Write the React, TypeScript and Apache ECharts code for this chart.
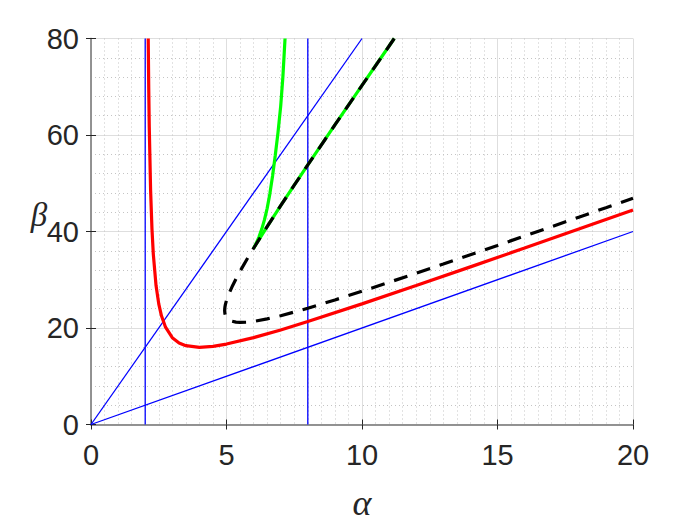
import React, { useEffect, useRef } from "react";
import * as echarts from "echarts";

// Axis ticks
const xTickValues = [0, 5, 10, 15, 20];
const yTickValues = [0, 20, 40, 60, 80];

// Blue reference lines
const blueSteepLine = [[0, 0], [10, 80]];
const blueShallowLine = [[0, 0], [20, 40]];
const blueVerticalA = [[2, 0], [2, 80]];
const blueVerticalB = [[8, 0], [8, 80]];

// Red curve (alpha, beta)
const redCurve = [
  [2.1115, 80], [2.13, 69.8], [2.15, 61.63], [2.2, 48.4], [2.25, 40.5], [2.3, 35.27],
  [2.4, 28.8], [2.5, 25], [2.6, 22.53], [2.75, 20.17], [3, 18], [3.25, 16.9],
  [3.5, 16.33], [4, 16], [4.5, 16.2], [5, 16.67], [6, 18], [7, 19.6], [8, 21.33],
  [10, 25], [12, 28.8], [14, 32.67], [16, 36.57], [18, 40.5], [20, 44.44],
];

// Green steep branch
const greenSteep = [
  [6.0, 36.5], [6.1, 37.6], [6.2, 38.9], [6.3, 40.5], [6.4, 42.4], [6.5, 44.8],
  [6.6, 47.8], [6.7, 51.5], [6.8, 55.8], [6.9, 60.5], [7.0, 66], [7.08, 72], [7.16, 80],
];

// Black dashed curve: upper part (top -> nose), then lower part (nose -> right edge)
const dashedUpper = [
  [11.19, 80], [11, 78.44], [10, 70.28], [9, 62.08], [8, 53.79], [7.5, 49.6],
  [7, 45.35], [6.5, 41.01], [6, 36.53], [5.75, 34.2], [5.5, 31.75], [5.35, 30.18],
  [5.2, 28.49], [5.1, 27.23], [5.05, 26.52], [5, 25.71], [4.96, 24.89], [4.94, 24.29],
  [4.9307, 23.6],
];
const dashedLower = [
  [4.94, 23.01], [4.96, 22.61], [5, 22.19], [5.05, 21.88], [5.1, 21.67], [5.2, 21.41],
  [5.35, 21.22], [5.5, 21.15], [5.75, 21.2], [6, 21.37], [6.5, 21.89], [7, 22.55],
  [7.5, 23.3], [8, 24.11], [9, 25.82], [10, 27.62], [11, 29.47], [12, 31.35],
  [13, 33.25], [14, 35.18], [15, 37.11], [16, 39.06], [17, 41.01], [18, 42.97],
  [19, 44.93], [20, 46.9],
];
const greenAlongStartAlpha = 6;

const FONT = '"Liberation Sans", Arial, Helvetica, sans-serif';
const SERIF = '"Liberation Serif", "Times New Roman", serif';

export default function App() {
  const ref = useRef<HTMLDivElement>(null);

  useEffect(() => {
    if (!ref.current) return;
    const chart = echarts.init(ref.current, undefined, { renderer: "svg" });

    const xMin = xTickValues[0];
    const xMax = xTickValues[xTickValues.length - 1];
    const xInt = xTickValues[1] - xTickValues[0];
    const yMin = yTickValues[0];
    const yMax = yTickValues[yTickValues.length - 1];
    const yInt = yTickValues[1] - yTickValues[0];

    const axisLine = { show: true, lineStyle: { color: "#8c8c8c", width: 1.5 } };
    const axisTick = { show: true, inside: true, length: 5, lineStyle: { color: "#262626", width: 1 } };
    const splitLine = { show: true, lineStyle: { color: "#dedede", width: 1 } };
    const minorSplitLine = { show: true, lineStyle: { color: "#c4c4c4", width: 1, type: [1, 3] } };

    const line = (data: number[][], color: string, width: number, type: any = "solid", z = 2) => ({
      type: "line",
      data,
      showSymbol: false,
      symbol: "none",
      silent: true,
      clip: true,
      z,
      lineStyle: { color, width, type, cap: "butt" },
    });

    const greenAlong = dashedUpper.filter((p) => p[0] >= greenAlongStartAlpha);
    const dashedCurve = [...dashedUpper, ...dashedLower];

    chart.setOption({
      animation: false,
      backgroundColor: "#ffffff",
      grid: { left: 91, right: 67, top: 38.5, height: 386, containLabel: false },
      xAxis: [
        {
          type: "value", min: xMin, max: xMax, interval: xInt, position: "bottom",
          axisLine, axisTick,
          axisLabel: { show: true, margin: 16, fontSize: 29, color: "#262626", fontFamily: FONT },
          splitLine,
          minorTick: { show: false, splitNumber: 10 },
          minorSplitLine,
        },
        {
          type: "value", min: xMin, max: xMax, interval: xInt, position: "top",
          axisLine, axisTick, axisLabel: { show: false }, splitLine: { show: false },
        },
      ],
      yAxis: [
        {
          type: "value", min: yMin, max: yMax, interval: yInt, position: "left",
          axisLine, axisTick,
          axisLabel: { show: true, margin: 12, fontSize: 29, color: "#262626", fontFamily: FONT },
          splitLine,
          minorTick: { show: false, splitNumber: 5 },
          minorSplitLine,
        },
        {
          type: "value", min: yMin, max: yMax, interval: yInt, position: "right",
          axisLine, axisTick, axisLabel: { show: false }, splitLine: { show: false },
        },
      ],
      series: [
        line(blueSteepLine, "#0000ff", 1.3),
        line(blueShallowLine, "#0000ff", 1.3),
        line(blueVerticalA, "#0000ff", 1.3),
        line(blueVerticalB, "#0000ff", 1.3),
        line(redCurve, "#ff0000", 3.2, "solid", 3),
        line(greenSteep, "#00ff00", 3.2, "solid", 4),
        line(greenAlong, "#00ff00", 3.2, "solid", 4),
        line(dashedCurve, "#000000", 3.2, [14, 10], 5),
      ],
      graphic: [
        {
          type: "text", x: 39, y: 215, silent: true,
          style: {
            text: "β", fontSize: 33, fontStyle: "italic", fontFamily: SERIF,
            fill: "#262626", align: "center", verticalAlign: "middle",
          },
        },
        {
          type: "text", x: 362, y: 503, silent: true,
          style: {
            text: "α", fontSize: 36, fontStyle: "italic", fontFamily: SERIF,
            fill: "#262626", align: "center", verticalAlign: "middle",
          },
        },
      ],
    });

    return () => chart.dispose();
  }, []);

  return (
    <div
      ref={ref}
      style={{ position: "fixed", left: 0, top: 0, width: 700, height: 525, background: "#fff" }}
    />
  );
}
